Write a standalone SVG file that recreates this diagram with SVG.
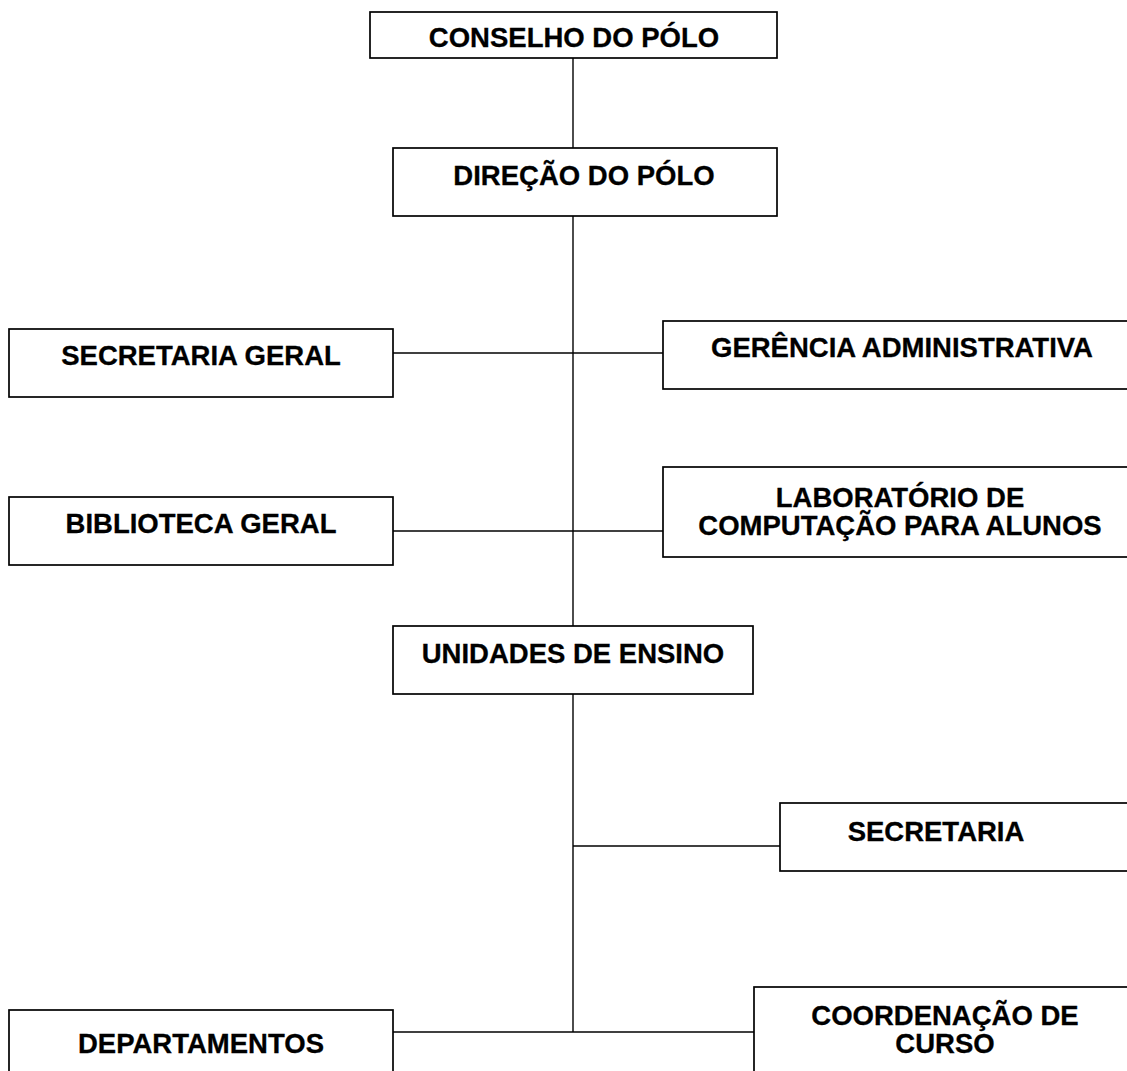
<svg xmlns="http://www.w3.org/2000/svg" width="1127" height="1071" viewBox="0 0 1127 1071">
<style>
.box{fill:#fff;stroke:#000;stroke-width:1.7}
.t{font-family:"Liberation Sans",Arial,sans-serif;font-weight:bold;font-size:27.5px;fill:#000;text-anchor:middle;stroke:#000;stroke-width:0.3}
.c{stroke:#000;stroke-width:1.4;fill:none}
</style>
<rect width="1127" height="1071" fill="#fff"/>
<g id="connectors">
<line class="c" x1="573" y1="58" x2="573" y2="148"/>
<line class="c" x1="573" y1="216" x2="573" y2="626"/>
<line class="c" x1="393" y1="353" x2="663" y2="353"/>
<line class="c" x1="393" y1="531" x2="663" y2="531"/>
<line class="c" x1="573" y1="694" x2="573" y2="1032"/>
<line class="c" x1="573" y1="846" x2="780" y2="846"/>
<line class="c" x1="393" y1="1032" x2="754" y2="1032"/>
</g>
<g id="conselho"><rect class="box" x="370" y="12" width="407" height="46"/><text class="t" x="574" y="47">CONSELHO DO PÓLO</text></g>
<g id="direcao"><rect class="box" x="393" y="148" width="384" height="68"/><text class="t" x="584" y="185">DIREÇÃO DO PÓLO</text></g>
<g id="secretaria-geral"><rect class="box" x="9" y="329" width="384" height="68"/><text class="t" x="201" y="365">SECRETARIA GERAL</text></g>
<g id="gerencia"><rect class="box" x="663" y="321" width="480" height="68"/><text class="t" x="902" y="357">GERÊNCIA ADMINISTRATIVA</text></g>
<g id="biblioteca"><rect class="box" x="9" y="497" width="384" height="68"/><text class="t" x="201" y="533">BIBLIOTECA GERAL</text></g>
<g id="laboratorio"><rect class="box" x="663" y="467" width="480" height="90"/><text class="t" x="900" y="507">LABORATÓRIO DE</text><text class="t" x="900" y="535">COMPUTAÇÃO PARA ALUNOS</text></g>
<g id="unidades"><rect class="box" x="393" y="626" width="360" height="68"/><text class="t" x="573" y="663">UNIDADES DE ENSINO</text></g>
<g id="secretaria"><rect class="box" x="780" y="803" width="360" height="68"/><text class="t" x="936" y="841">SECRETARIA</text></g>
<g id="departamentos"><rect class="box" x="9" y="1010" width="384" height="80"/><text class="t" x="201" y="1053">DEPARTAMENTOS</text></g>
<g id="coordenacao"><rect class="box" x="754" y="987" width="390" height="100"/><text class="t" x="945" y="1025">COORDENAÇÃO DE</text><text class="t" x="945" y="1053">CURSO</text></g>
</svg>
